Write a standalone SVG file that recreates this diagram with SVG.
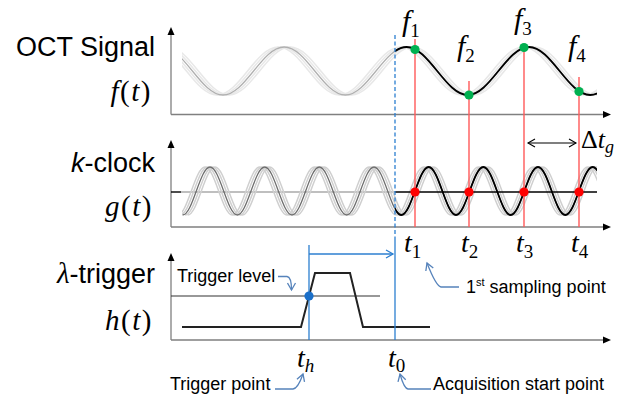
<svg xmlns="http://www.w3.org/2000/svg" width="617" height="396" viewBox="0 0 617 396">
<style>
.lbl{font-family:"Liberation Sans",Arial,sans-serif;fill:#000}
.math{font-family:"Liberation Serif","Times New Roman",serif;fill:#000}
.it{font-style:italic}
.axis{stroke:#808080;stroke-width:1.3;fill:none}
.band1{stroke:#e8e8e8;stroke-width:1.6;fill:none}
.mid1{stroke:#b0b0b0;stroke-width:1.3;fill:none}
.band2{stroke:#cfcfcf;stroke-width:1.5;fill:none}
.mid2{stroke:#6e6e6e;stroke-width:1.3;fill:none}
.blk{stroke:#000;stroke-width:1.8;fill:none}
.red{stroke:#ff5a5a;stroke-width:1.4}
.blue{stroke:#2c7fd0;stroke-width:1.3;fill:none}
.call{stroke:#5683bb;stroke-width:1.3;fill:none;marker-end:url(#vcall)}
</style>
<defs>
<marker id="vblk" markerWidth="10" markerHeight="10" refX="8" refY="5" orient="auto-start-reverse" markerUnits="userSpaceOnUse"><path d="M1,1 L8,5 L1,9" fill="none" stroke="#000" stroke-width="1.1"/></marker>
<marker id="vblue" markerWidth="10" markerHeight="10" refX="8" refY="5" orient="auto" markerUnits="userSpaceOnUse"><path d="M1,1 L8,5 L1,9" fill="none" stroke="#2c7fd0" stroke-width="1.3"/></marker>
<marker id="vcall" markerWidth="10" markerHeight="10" refX="8" refY="5" orient="auto" markerUnits="userSpaceOnUse"><path d="M1,1 L8,5 L1,9" fill="none" stroke="#5683bb" stroke-width="1.3"/></marker>
<path id="w1" d="M161.8,47 C184.09,47 200.71,95 223,95 S 261.91,47 284.2,47 S 323.11,95 345.4,95 S 384.31,47 406.6,47 S 445.51,95 467.8,95 S 506.71,47 529,47 S 567.91,95 590.2,95 S 629.11,47 651.4,47"/>
<path id="w2" d="M182.67,215 C192.62,215 200.05,167 210,167 S 227.38,215 237.33,215 S 254.72,167 264.67,167 S 282.05,215 292,215 S 309.38,167 319.33,167 S 336.72,215 346.67,215 S 364.05,167 374,167 S 391.38,215 401.33,215 S 418.72,167 428.67,167 S 446.05,215 456,215 S 473.38,167 483.33,167 S 500.72,215 510.67,215 S 528.05,167 538,167 S 555.38,215 565.33,215 S 582.72,167 592.67,167 S 610.05,215 620,215"/>
<clipPath id="c1a"><rect x="182" y="20" width="415" height="100"/></clipPath>
<clipPath id="c1b"><rect x="395" y="20" width="202" height="100"/></clipPath>
<clipPath id="c2a"><rect x="182" y="150" width="415" height="75"/></clipPath>
<clipPath id="c2b"><rect x="395" y="150" width="202" height="75"/></clipPath>
</defs>

<g id="axes">
<path class="axis" d="M171,114.5 V31 M171,114.5 H606" />
<path d="M171,27 L167.5,35 L174.5,35 Z M611,114.5 L603,111 L603,118 Z" fill="#000"/>
<path class="axis" d="M171,227 V144 M171,227 H606" />
<path d="M171,140 L167.5,148 L174.5,148 Z M611,227 L603,223.5 L603,230.5 Z" fill="#000"/>
<path class="axis" d="M171,340 V257 M171,340 H606" />
<path d="M171,253 L167.5,261 L174.5,261 Z M611,340 L603,336.5 L603,343.5 Z" fill="#000"/>
</g>

<g id="oct-signal">
<text class="lbl" x="155" y="56" font-size="27" text-anchor="end">OCT Signal</text>
<text class="math" x="152" y="101" font-size="29" text-anchor="end" letter-spacing="1.5"><tspan class="it">f</tspan>(<tspan class="it">t</tspan>)</text>
<g clip-path="url(#c1a)">
<use href="#w1" class="band1" transform="translate(-6,0)"/>
<use href="#w1" class="band1" transform="translate(-3,0)"/>
<use href="#w1" class="band1" transform="translate(3,0)"/>
<use href="#w1" class="band1" transform="translate(6,0)"/>
<use href="#w1" class="mid1"/>
</g>
<g clip-path="url(#c1b)"><use href="#w1" class="blk"/></g>
</g>

<g id="k-clock">
<text class="lbl" x="155" y="172" font-size="27" text-anchor="end"><tspan font-style="italic">k</tspan>-clock</text>
<text class="math" x="153" y="216" font-size="29" text-anchor="end" letter-spacing="1.5"><tspan class="it">g</tspan>(<tspan class="it">t</tspan>)</text>
<path d="M171,192 H181" stroke="#000" stroke-width="1.4"/>
<path d="M181,192 H395" stroke="#808080" stroke-width="1.2"/>
<g clip-path="url(#c2a)">
<use href="#w2" class="band2" transform="translate(-5,0)"/>
<use href="#w2" class="band2" transform="translate(-2.5,0)"/>
<use href="#w2" class="band2" transform="translate(2.5,0)"/>
<use href="#w2" class="band2" transform="translate(5,0)"/>
<use href="#w2" class="mid2"/>
</g>
<path d="M395,192 H597" stroke="#000" stroke-width="1.4"/>
<g clip-path="url(#c2b)"><use href="#w2" class="blk"/></g>
</g>

<g id="lambda-trigger">
<text class="lbl" x="155" y="283" font-size="27" text-anchor="end"><tspan font-family="Liberation Serif,serif" font-style="italic" font-size="29">λ</tspan>-trigger</text>
<text class="math" x="153" y="330" font-size="29" text-anchor="end" letter-spacing="1.5"><tspan class="it">h</tspan>(<tspan class="it">t</tspan>)</text>
<path d="M171,296 H380" stroke="#333" stroke-width="1.2"/>
<path d="M182,327 L301,327 L315,273 L350,273 L363,327 L430,327" fill="none" stroke="#222" stroke-width="2"/>
<text class="lbl" x="177" y="281.5" font-size="18">Trigger level</text>
</g>

<g id="connectors">
<path class="blue" d="M395,35 V240" stroke-dasharray="4,2.5"/>
<path class="blue" d="M395,240 V340"/>
<path class="blue" d="M309,245 V340"/>
<path class="blue" d="M309,254 H393" marker-end="url(#vblue)"/>
<path class="red" d="M415,39 V227 M469,81 V227 M524,47 V227 M579,77 V227"/>
<path d="M528,143 H576" stroke="#000" stroke-width="1.1" marker-start="url(#vblk)" marker-end="url(#vblk)"/>
<path class="call" d="M278,276.5 L287,276.5 Q291.5,277 291.5,290"/>
<path class="call" d="M275,389 L293,389 Q298,388.5 303,374"/>
<path class="call" d="M431,389 L408,389 Q404,388.5 400,374"/>
<path class="call" d="M459,287 L441,287 Q436,286 427,263"/>
</g>

<g id="points">
<circle cx="415" cy="49.5" r="4.6" fill="#00b050"/>
<circle cx="469" cy="95" r="4.6" fill="#00b050"/>
<circle cx="524" cy="47.5" r="4.6" fill="#00b050"/>
<circle cx="579" cy="91.5" r="4.6" fill="#00b050"/>
<circle cx="415" cy="192" r="4.6" fill="#ff0000"/>
<circle cx="469" cy="192" r="4.6" fill="#ff0000"/>
<circle cx="524" cy="192" r="4.6" fill="#ff0000"/>
<circle cx="579" cy="192" r="4.6" fill="#ff0000"/>
<circle cx="309" cy="296" r="4.6" fill="#1a6fc9"/>
</g>

<g id="math-labels" class="math">
<text x="402" y="31" font-size="30"><tspan class="it">f</tspan><tspan font-size="19" dy="6">1</tspan></text>
<text x="457" y="56" font-size="30"><tspan class="it">f</tspan><tspan font-size="19" dy="6">2</tspan></text>
<text x="514" y="29" font-size="30"><tspan class="it">f</tspan><tspan font-size="19" dy="6">3</tspan></text>
<text x="568" y="56" font-size="30"><tspan class="it">f</tspan><tspan font-size="19" dy="6">4</tspan></text>
<text x="581" y="148" font-size="26">Δ<tspan class="it">t</tspan><tspan class="it" font-size="18" dy="5">g</tspan></text>
<text x="404" y="252" font-size="28"><tspan class="it">t</tspan><tspan font-size="19" dy="6">1</tspan></text>
<text x="461" y="252" font-size="28"><tspan class="it">t</tspan><tspan font-size="19" dy="6">2</tspan></text>
<text x="516" y="252" font-size="28"><tspan class="it">t</tspan><tspan font-size="19" dy="6">3</tspan></text>
<text x="571" y="252" font-size="28"><tspan class="it">t</tspan><tspan font-size="19" dy="6">4</tspan></text>
<text x="297" y="367" font-size="28"><tspan class="it">t</tspan><tspan class="it" font-size="19" dy="5">h</tspan></text>
<text x="388" y="367" font-size="28"><tspan class="it">t</tspan><tspan font-size="19" dy="5">0</tspan></text>
</g>

<g id="notes" class="lbl">
<text x="170" y="390" font-size="18">Trigger point</text>
<text x="433" y="390" font-size="18">Acquisition start point</text>
<text x="466" y="293" font-size="18">1<tspan font-size="11" dy="-7">st</tspan><tspan dy="7"> sampling point</tspan></text>
</g>
</svg>
